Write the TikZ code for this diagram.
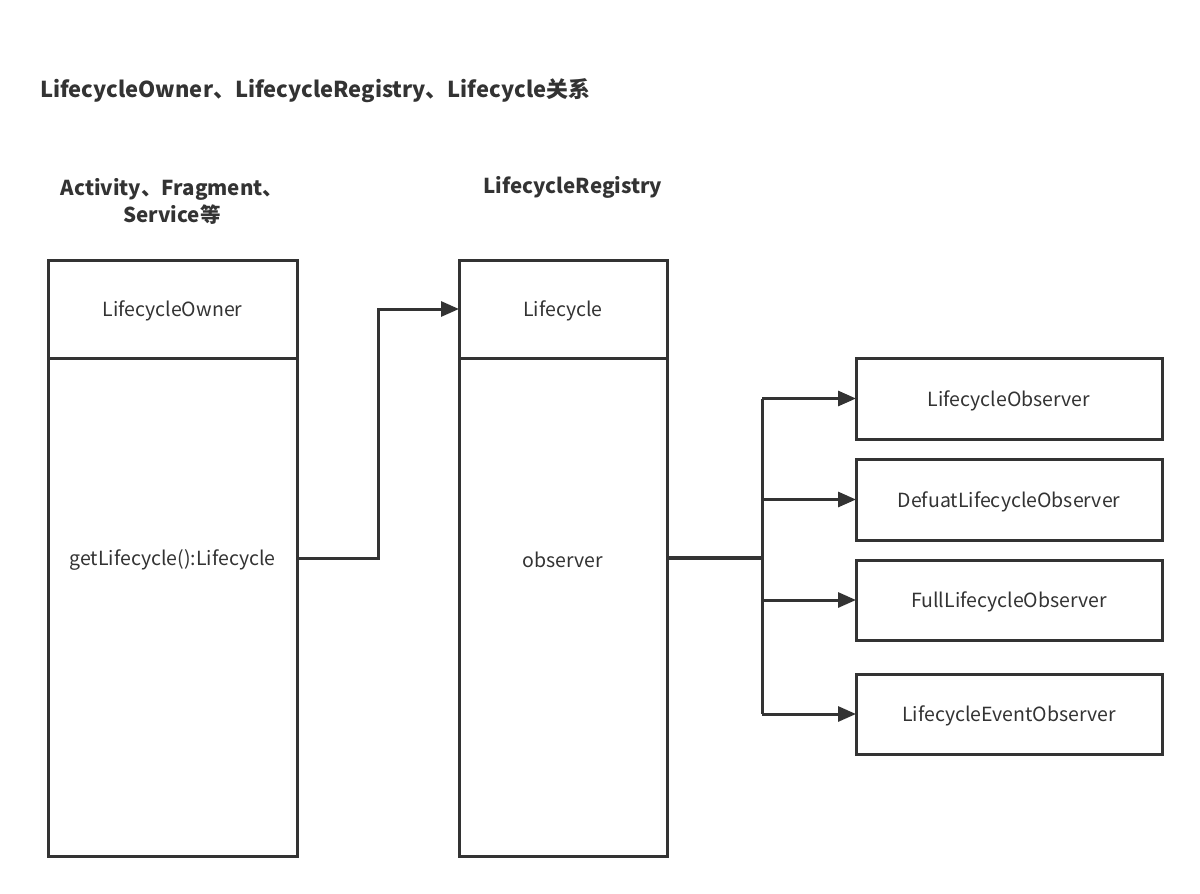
\documentclass[tikz,border=0pt]{standalone}
\usepackage{fontspec}
\setmainfont{Noto Sans CJK SC}
\usetikzlibrary{arrows.meta}
\definecolor{ink}{HTML}{333333}
\begin{document}
\begin{tikzpicture}[x=1pt,y=-1pt,
  box/.style={draw=ink,line width=3pt,rectangle,inner sep=0pt,outer sep=0pt,anchor=north west},
  lbl/.style={text=ink,font=\fontsize{19.5}{23}\selectfont,inner sep=0pt,yshift=-2pt},
  hdr/.style={text=ink,font=\bfseries\fontsize{20.5}{27}\selectfont,inner sep=0pt,align=center},
  conn/.style={draw=ink,line width=3pt,-{Triangle[length=18pt,width=15pt]}},
  trunk/.style={draw=ink,line width=3pt}]
\useasboundingbox (0,0) rectangle (1200,894);
\fill[white] (0,0) rectangle (1200,894);
\node[hdr,anchor=west,font=\bfseries\fontsize{21.9}{26}\selectfont] (title) at (40,91) {LifecycleOwner、LifecycleRegistry、Lifecycle关系};
\node[hdr] (h1) at (172,201) {Activity、Fragment、\\Service等};
\node[hdr] (h2) at (573,187) {LifecycleRegistry};
% owner
\node[box,minimum width=249pt,minimum height=98pt] (own) at (48,260) {};
\node[box,minimum width=249pt,minimum height=498pt] (ownb) at (48,358) {};
\node[lbl] (ownt) at (own.center) {LifecycleOwner};
\node[lbl] (gl) at (172.5,558) {getLifecycle():Lifecycle};
% registry
\node[box,minimum width=208pt,minimum height=98pt] (lc) at (459,260) {};
\node[box,minimum width=208pt,minimum height=498pt] (lcb) at (459,358) {};
\node[lbl] (lct) at (lc.center) {Lifecycle};
\node[lbl] (obs) at (563,558) {observer};
% observers
\node[box,minimum width=306pt,minimum height=81pt] (o1) at (856,358) {};
\node[lbl] at (o1.center) {LifecycleObserver};
\node[box,minimum width=306pt,minimum height=81pt] (o2) at (856,459) {};
\node[lbl] at (o2.center) {DefuatLifecycleObserver};
\node[box,minimum width=306pt,minimum height=80pt] (o3) at (856,560) {};
\node[lbl] at (o3.center) {FullLifecycleObserver};
\node[box,minimum width=306pt,minimum height=80pt] (o4) at (856,674) {};
\node[lbl] at (o4.center) {LifecycleEventObserver};
% connectors
\coordinate (src) at (297,558);
\draw[conn] (src) -- (378,558) -- (378,309) -- (lc.west);
\coordinate (fork) at (762,558);
\draw[trunk,line width=3.6pt] (lcb.east |- fork) -- (fork);
\draw[trunk] (fork |- o1.west) -- (fork |- o4.west);
\draw[conn] (fork |- o1.west) -- (o1.west);
\draw[conn] (fork |- o2.west) -- (o2.west);
\draw[conn] (fork |- o3.west) -- (o3.west);
\draw[conn] (fork |- o4.west) -- (o4.west);
\end{tikzpicture}
\end{document}
